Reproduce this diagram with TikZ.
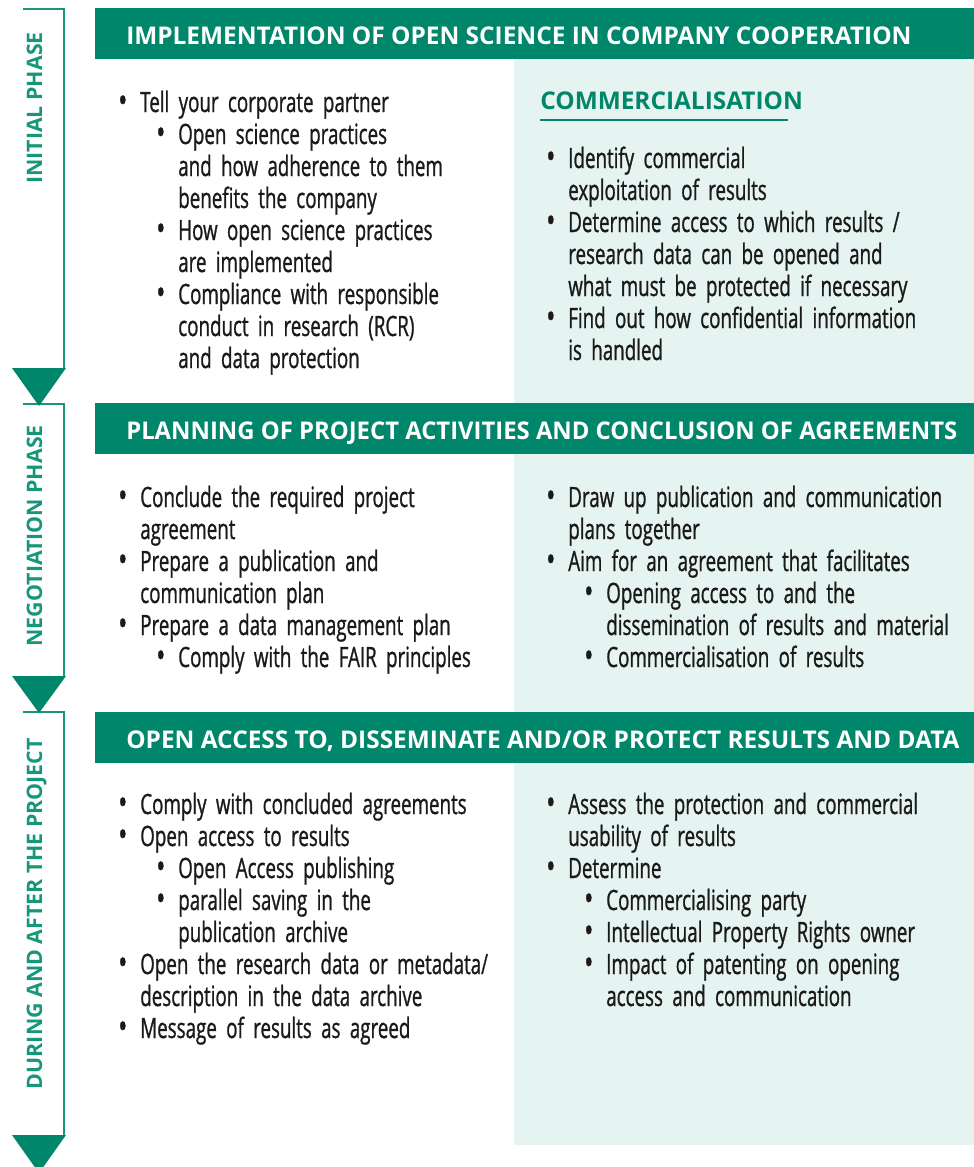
\documentclass[tikz,border=0pt]{standalone}
\usepackage{fontspec}
\setmainfont{Open Sans}
\newfontfamily\cuerpo{Open Sans}[FakeStretch=0.67,WordSpace=0.45,FakeBold=0.9]
\newfontfamily\titular{Open Sans}
\newfontfamily\titularc{Open Sans}[FakeStretch=0.978]
\usetikzlibrary{positioning}
\definecolor{verde}{HTML}{00866A}
\definecolor{verdel}{HTML}{16977A}
\definecolor{fondo}{HTML}{E6F4F1}
\definecolor{tinta}{HTML}{1A1A1A}
\newlength\px
\setlength\px{0.75pt}
% bullet levels
\newcommand\vineta{\makebox[22\px][l]{\raisebox{-0.7pt}{\fontsize{27}{24}\selectfont\textbullet}}}
\newcommand\pa[1]{\leftskip=0pt\hangindent=22\px\hangafter=1\noindent\vineta#1\par}
\newcommand\pb[1]{\leftskip=38\px\hangindent=22\px\hangafter=1\noindent\vineta#1\par}
\tikzset{
  cabecera/.style={fill=verde,draw=none,anchor=north west,minimum width=879\px,minimum height=51\px,inner sep=0pt},
  panel/.style={fill=fondo,draw=none,anchor=north west,minimum width=460\px,inner sep=0pt},
  rotulo/.style={font=\titular\bfseries\fontsize{18.3}{20}\selectfont,color=white,anchor=base west,inner sep=0pt},
  fase/.style={font=\titular\bfseries\fontsize{16}{20}\selectfont,color=verdel,rotate=90,anchor=base east,inner sep=0pt},
  bloque/.style={font=\cuerpo\fontsize{21}{24}\selectfont,text width=#1,anchor=base west,inner sep=0pt,color=tinta},
  bloque/.default=400\px,
  linea/.style={draw=verdel,line width=1.5\px},
  punta/.style={fill=verde,draw=none},
}
\begin{document}
\begin{tikzpicture}[x=0.75pt,y=-0.75pt]
  \useasboundingbox (0,0) rectangle (974,1167);
  % fondos
  \node[panel,minimum height=344\px] (pan1) at (514,59) {};
  \node[panel,minimum height=258\px] (pan2) at (514,454) {};
  \node[panel,minimum height=382\px] (pan3) at (514,763) {};
  \node[cabecera] (cab1) at (95,8) {};
  \node[cabecera] (cab2) at (95,403) {};
  \node[cabecera] (cab3) at (95,712) {};
  \node[rotulo] (rot1) at (126,44) {IMPLEMENTATION OF OPEN SCIENCE IN COMPANY COOPERATION};
  \node[rotulo,font=\titularc\bfseries\fontsize{18.3}{20}\selectfont] (rot2) at (126,439) {PLANNING OF PROJECT ACTIVITIES AND CONCLUSION OF AGREEMENTS};
  \node[rotulo] (rot3) at (126,748) {OPEN ACCESS TO, DISSEMINATE AND/OR PROTECT RESULTS AND DATA};
  % fases
  \draw[linea] (23,9) -- (64,9) -- (64,368);
  \draw[linea] (23,404) -- (64,404) -- (64,676);
  \draw[linea] (23,712) -- (64,712) -- (64,1135);
  \fill[punta] (12,368) -- (66,368) -- (39,406) -- cycle;
  \fill[punta] (12,676) -- (66,676) -- (39,713) -- cycle;
  \fill[punta] (12,1135) -- (66,1135) -- (39,1173) -- cycle;
  \node[fase] (f1) at (42,32) {INITIAL PHASE};
  \node[fase] (f2) at (42,425) {NEGOTIATION PHASE};
  \node[fase] (f3) at (42,738) {DURING AND AFTER THE PROJECT};
  % fase inicial
  \node[bloque] (ini-l) at (118,112) {\pa{Tell your corporate partner}
    \pb{Open science practices\newline and how adherence to them\newline benefits the company}
    \pb{How open science practices\newline are implemented}
    \pb{Compliance with responsible\newline conduct in research (RCR)\newline and data protection}};
  \node[rotulo,color=verde] (com) at (540,109) {COMMERCIALISATION};
  \draw[draw=verde,line width=2\px] (540,120) -- (788,120);
  \node[bloque=428\px] (ini-r) at (546,168) {\pa{Identify commercial\newline exploitation of results}
    \pa{Determine access to which results /\newline research data can be opened and\newline what must be protected if necessary}
    \pa{Find out how confidential information\newline is handled}};
  % negociacion
  \node[bloque] (neg-l) at (118,507) {\pa{Conclude the required project\newline agreement}
    \pa{Prepare a publication and\newline communication plan}
    \pa{Prepare a data management plan}
    \pb{Comply with the FAIR principles}};
  \node[bloque=428\px] (neg-r) at (546,507) {\pa{Draw up publication and communication\newline plans together}
    \pa{Aim for an agreement that facilitates}
    \pb{Opening access to and the\newline dissemination of results and material}
    \pb{Commercialisation of results}};
  % durante y despues
  \node[bloque] (dur-l) at (118,814) {\pa{Comply with concluded agreements}
    \pa{Open access to results}
    \pb{Open Access publishing}
    \pb{parallel saving in the\newline publication archive}
    \pa{Open the research data or metadata/\newline description in the data archive}
    \pa{Message of results as agreed}};
  \node[bloque=428\px] (dur-r) at (546,814) {\pa{Assess the protection and commercial\newline usability of results}
    \pa{Determine}
    \pb{Commercialising party}
    \pb{Intellectual Property Rights owner}
    \pb{Impact of patenting on opening\newline access and communication}};
\end{tikzpicture}
\end{document}
